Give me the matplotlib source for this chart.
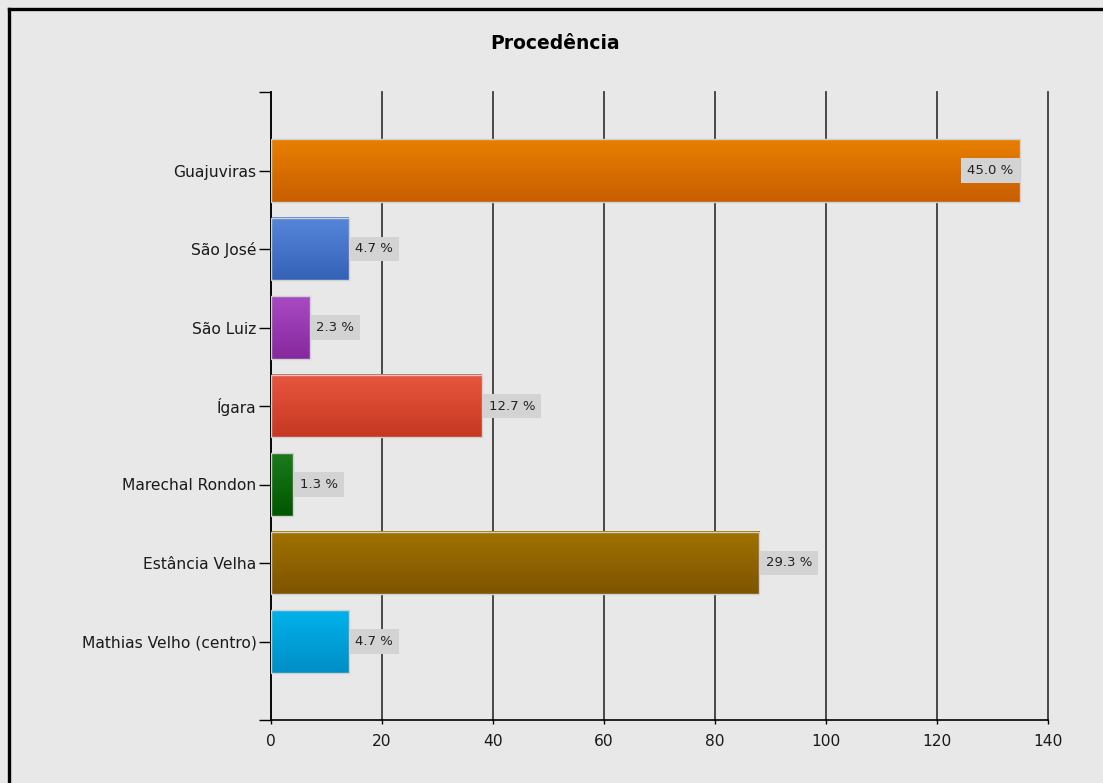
import matplotlib.pyplot as plt
import numpy as np
from matplotlib.colors import LinearSegmentedColormap
from matplotlib.patches import Rectangle
from matplotlib.lines import Line2D

plt.rcParams['font.family'] = ['DejaVu Sans']

bairros = ["Guajuviras", "São José", "São Luiz", "ĺgara", "Marechal Rondon",
           "Estância Velha", "Mathias Velho (centro)"]
valores = [135, 14, 7, 38, 4, 88, 14]
percentuais = ["45.0 %", "4.7 %", "2.3 %", "12.7 %", "1.3 %", "29.3 %", "4.7 %"]
cor_topo = ["#e87f00", "#5686da", "#a84ac2", "#e8553e", "#1b7b1b", "#a07200", "#00b2ea"]
cor_base = ["#c85e00", "#3462b6", "#86289e", "#c63822", "#005600", "#7e5400", "#008ec6"]

fig = plt.figure(figsize=(11.03, 7.83), dpi=100)
fig.patch.set_facecolor("#e8e8e8")

# moldura preta: so as bordas esquerda e superior ficam dentro da imagem
x0, y0 = 8.5 / 1103, 1 - 8.5 / 783
fig.lines.append(Line2D([x0, x0], [0, y0], transform=fig.transFigure,
                        color="black", linewidth=2.4, solid_capstyle="projecting"))
fig.lines.append(Line2D([x0, 1], [y0, y0], transform=fig.transFigure,
                        color="black", linewidth=2.4, solid_capstyle="projecting"))

ax = fig.add_axes([271 / 1103, 63 / 783, 777 / 1103, 628 / 783])
ax.set_facecolor("#e8e8e8")

ax.set_xlim(0, 140)
ax.set_ylim(7, -1)
ax.set_xticks(range(0, 141, 20))
ax.xaxis.grid(True, color="#3c3c3c", linewidth=1.3)
for g in ax.get_xgridlines():
    g.set_clip_on(False)
ax.set_axisbelow(True)

pos = np.arange(len(bairros))
altura = 0.8
pad = 0.45
fs_rot = 9.5
for i, (v, txt) in enumerate(zip(valores, percentuais)):
    cmap = LinearSegmentedColormap.from_list("g", [cor_topo[i], cor_base[i]])
    grad = np.linspace(0, 1, 64).reshape(-1, 1)
    ax.imshow(grad, cmap=cmap, aspect="auto", zorder=2,
              extent=(0, v, pos[i] + altura / 2, pos[i] - altura / 2))
    ax.add_patch(Rectangle((0, pos[i] - altura / 2), v, altura, fill=False,
                           edgecolor="#d0d0d0", linewidth=1, zorder=3))
    desloc = pad * fs_rot + 0.5
    if v > 100:
        ax.annotate(txt, (v, pos[i]), xytext=(-desloc, 0), textcoords="offset points",
                    ha="right", va="center", fontsize=fs_rot, color="#222222", zorder=4,
                    bbox=dict(boxstyle=f"square,pad={pad}", fc="#d3d3d3", ec="none"))
    else:
        ax.annotate(txt, (v, pos[i]), xytext=(desloc, 0), textcoords="offset points",
                    ha="left", va="center", fontsize=fs_rot, color="#222222", zorder=4,
                    bbox=dict(boxstyle=f"square,pad={pad}", fc="#d3d3d3", ec="none"))

ax.set_yticks([-1] + list(pos) + [7])
ax.set_yticklabels([""] + bairros + [""])
ax.tick_params(axis="y", length=9, width=1, labelsize=11.2, pad=1.5, colors="black")
ax.tick_params(axis="x", length=3, width=1, labelsize=11.2, pad=7, colors="black")
for lbl in ax.get_xticklabels() + ax.get_yticklabels():
    lbl.set_color("#1a1a1a")

for lado in ["top", "right"]:
    ax.spines[lado].set_visible(False)
for lado in ["left", "bottom"]:
    ax.spines[lado].set_color("black")
    ax.spines[lado].set_linewidth(1.2)

fig.text(555 / 1103, 1 - 43.5 / 783, "Procedência", ha="center", va="center",
         fontsize=13.5, fontweight="bold", color="black")

fig.savefig("out.png", dpi=100, facecolor=fig.get_facecolor())
